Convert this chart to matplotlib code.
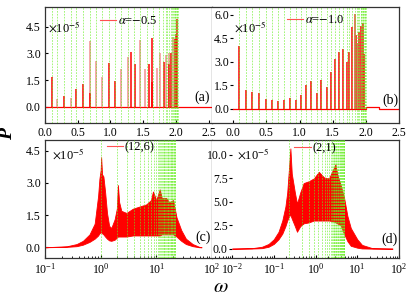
import matplotlib
matplotlib.use("Agg")
import matplotlib.pyplot as plt

plt.rcParams['font.family'] = ['Liberation Serif', 'DejaVu Serif']
plt.rcParams['mathtext.fontset'] = 'stix'
plt.rcParams['font.size'] = 8.5

# ---- panel (a): alpha = -0.5 ----
a_green = [0.1, 0.19, 0.29, 0.39, 0.48, 0.58, 0.68, 0.78, 0.87, 0.97, 1.07, 1.16,
           1.26, 1.36, 1.45, 1.55, 1.65, 1.74, 1.8, 1.84, 1.87, 1.9, 1.92, 1.94,
           1.96, 1.97, 1.98, 1.99, 2.0, 2.01, 2.02, 2.03]
a_red_x = [0.1, 0.29, 0.48, 0.58, 0.68, 0.97, 1.07, 1.31, 1.38, 1.59, 1.64, 1.64,
           1.81, 1.9, 1.93, 1.98, 2.0, 2.02]
a_red_y = [1.7, 0.6, 1.0, 1.3, 0.8, 2.45, 1.45, 3.1, 2.4, 2.4, 3.85, 1.4,
           2.5, 2.4, 3.0, 3.8, 4.1, 4.9]
a_pink_x = [0.19, 0.39, 0.68, 0.78, 0.87, 1.16, 1.26, 1.45, 1.53, 1.71, 1.76,
            1.85, 1.9, 1.96]
a_pink_y = [0.46, 0.5, 3.7, 2.55, 1.65, 2.15, 2.8, 3.75, 2.1, 2.2, 3.0,
            2.9, 3.0, 3.9]
a_base_x = [0.0, 2.55]
a_base_y = [0.0, 0.0]

# ---- panel (b): alpha = -1.0 ----
b_green = [0.09, 0.19, 0.29, 0.39, 0.49, 0.59, 0.68, 0.77, 0.86, 0.94, 1.02, 1.1,
           1.18, 1.26, 1.33, 1.41, 1.47, 1.53, 1.6, 1.66, 1.71, 1.75, 1.79, 1.83,
           1.86, 1.88, 1.9, 1.92, 1.93, 1.94, 1.95, 1.96, 1.97, 1.98, 1.99, 2.0]
b_red_x = [0.09, 0.19, 0.29, 0.39, 0.49, 0.59, 0.68, 0.77, 0.86, 0.94, 1.02, 1.1,
           1.18, 1.26, 1.33, 1.41, 1.47, 1.53, 1.6, 1.66, 1.71, 1.75, 1.79, 1.85,
           1.89, 1.93, 1.95, 1.97]
b_red_y = [4.0, 1.2, 1.05, 1.0, 0.65, 0.55, 0.5, 0.55, 0.7, 0.55, 0.9, 1.5,
           1.75, 1.0, 1.85, 1.4, 2.35, 3.2, 3.65, 3.85, 3.0, 3.6, 5.2, 4.7,
           4.9, 5.3, 5.5, 3.5]
b_pink_x = [1.83, 1.87, 1.91]
b_pink_y = [6.05, 4.2, 2.8]
b_base_x = [0.0, 2.0, 2.0, 2.2, 2.2, 2.5]
b_base_y = [0.0, 0.0, 0.12, 0.12, 0.0, 0.0]

# ---- panel (c): (12,6) ----
c_green = [1, 2, 3, 4, 5, 6, 7, 8, 9, 10, 10.5, 11, 11.5, 12, 12.5, 13, 13.5, 14,
           14.5, 15, 15.5, 16, 16.5, 17, 17.5, 18, 18.5, 19, 19.5, 20, 20.5, 21,
           21.5, 22]
c_x = [0.1, 0.25, 0.37, 0.48, 0.63, 0.78, 0.9, 0.95, 1.0, 1.02, 1.06, 1.12, 1.2,
       1.3, 1.42, 1.55, 1.78, 1.95, 2.04, 2.15, 2.35, 2.9, 3.8, 5.0, 6.6, 8.0,
       8.7, 10.0, 11.5, 12.5, 15.0, 17.0, 20.0, 23.0, 28.0, 34.0, 45.0, 59.0, 65.0]
c_hi = [0.0, 0.05, 0.15, 0.3, 0.6, 1.1, 2.4, 3.2, 3.6, 4.2, 3.4, 3.3, 2.6,
        1.6, 1.0, 0.9, 1.3, 1.8, 2.9, 2.1, 1.7, 1.6, 1.8, 1.9, 2.0, 2.2,
        2.6, 2.2, 2.7, 2.3, 2.3, 2.1, 2.2, 1.4, 0.8, 0.4, 0.15, 0.02, 0.0]
c_lo = [0.0, 0.02, 0.05, 0.12, 0.25, 0.4, 0.55, 0.65, 0.7, 0.7, 0.65, 0.6, 0.5,
        0.4, 0.32, 0.3, 0.35, 0.45, 0.5, 0.5, 0.5, 0.5, 0.55, 0.55, 0.55, 0.55,
        0.55, 0.55, 0.55, 0.6, 0.6, 0.6, 0.6, 0.5, 0.3, 0.15, 0.05, 0.0, 0.0]

# ---- panel (d): (2,1) ----
d_green = [0.235, 0.47, 0.705, 0.94, 1.175, 1.41, 1.645, 1.88, 2.115, 2.35, 2.47,
           2.585, 2.7, 2.82, 2.94, 3.055, 3.17, 3.29, 3.41, 3.525, 3.64, 3.76,
           3.88, 3.995, 4.11, 4.23, 4.35, 4.465, 4.58, 4.7, 4.82, 4.935]
d_x = [0.01, 0.03, 0.052, 0.075, 0.1, 0.13, 0.16, 0.19, 0.21, 0.235, 0.25, 0.27,
       0.32, 0.36, 0.43, 0.52, 0.69, 0.91, 1.2, 1.6, 2.1, 2.8, 3.0, 3.3, 4.0,
       4.8, 5.8, 7.0, 10.0, 13.0, 23.0, 70.0]
d_hi = [0.0, 0.05, 0.2, 0.5, 1.0, 1.8, 3.0, 4.5, 6.0, 9.0, 10.7, 8.0,
        6.0, 4.8, 6.0, 7.0, 7.2, 7.5, 8.2, 7.6, 7.5, 8.7, 9.0, 8.0, 6.8,
        5.5, 3.5, 2.2, 1.0, 0.4, 0.05, 0.0]
d_lo = [0.0, 0.01, 0.05, 0.2, 0.5, 1.0, 1.6, 2.4, 3.0, 3.5, 3.6, 3.2,
        2.4, 1.8, 2.4, 2.7, 2.8, 3.0, 3.0, 3.0, 3.0, 2.9, 2.8, 2.7, 2.5,
        1.6, 0.8, 0.3, 0.1, 0.02, 0.0, 0.0]

RED = '#ff0000'
PINK = '#f4a0a0'
GREEN = '#66ee22'

fig = plt.figure(figsize=(4.16, 2.96), dpi=100)
ax_a = fig.add_axes([45/416, 1 - 123/296, 167/416, 116/296])
ax_b = fig.add_axes([212/416, 1 - 123/296, 187/416, 116/296])
ax_c = fig.add_axes([45/416, 1 - 258/296, 167/416, 118/296])
ax_d = fig.add_axes([212/416, 1 - 258/296, 187/416, 118/296])


def greens(ax, xs):
    for x in xs:
        ax.axvline(x, color=GREEN, lw=0.6, ls=(0, (2, 1.5)), alpha=0.7, zorder=3)


# (a)
ax_a.plot(a_base_x, a_base_y, color=RED, lw=0.9, zorder=2)
ax_a.vlines(a_pink_x, 0, a_pink_y, color=PINK, lw=1.3, zorder=2)
ax_a.vlines(a_red_x, 0, a_red_y, color=RED, lw=1.1, zorder=2)
greens(ax_a, a_green)
ax_a.set_xlim(0, 2.55)
ax_a.set_ylim(-0.9, 5.6)
ax_a.set_xticks([0, 0.5, 1.0, 1.5, 2.0, 2.5])
ax_a.set_xticklabels(['0.0', '0.5', '1.0', '1.5', '2.0', '2.5'])
ax_a.set_yticks([0, 1.5, 3.0, 4.5])
ax_a.set_yticklabels(['0.0', '1.5', '3.0', '4.5'])

# (b)
ax_b.plot(b_base_x, b_base_y, color=RED, lw=0.9, zorder=2)
ax_b.vlines(b_red_x, 0, b_red_y, color=RED, lw=1.1, zorder=2)
ax_b.vlines(b_pink_x, 0, b_pink_y, color='#e06040', lw=1.2, zorder=2)
greens(ax_b, b_green)
ax_b.set_xlim(-0.32, 2.5)
ax_b.set_ylim(-0.9, 6.5)
ax_b.set_xticks([0, 0.5, 1.0, 1.5, 2.0, 2.5])
ax_b.set_xticklabels(['0.0', '0.5', '1.0', '1.5', '2.0', '2.5'])
ax_b.set_yticks([0, 1.5, 3.0, 4.5, 6.0])
ax_b.set_yticklabels(['0.0', '1.5', '3.0', '4.5', '6.0'])
ax_b.spines['left'].set_position(('data', 0))
ax_b.spines['left'].set_visible(False)

# (c)
ax_c.fill_between(c_x, c_lo, c_hi, color=RED, lw=0.6, zorder=2)
greens(ax_c, c_green)
ax_c.set_xscale('log')
ax_c.set_xlim(0.1, 100)
ax_c.set_ylim(-0.5, 5.0)
ax_c.set_yticks([0, 1.5, 3.0, 4.5])
ax_c.set_yticklabels(['0.0', '1.5', '3.0', '4.5'])

# (d)
ax_d.fill_between(d_x, d_lo, d_hi, color=RED, lw=0.6, zorder=2)
greens(ax_d, d_green)
ax_d.set_xscale('log')
ax_d.set_xlim(10 ** -2.48, 100)
ax_d.set_ylim(-1.0, 11.6)
ax_d.set_yticks([0, 2.5, 5.0, 7.5, 10.0])
ax_d.set_yticklabels(['0.0', '2.5', '5.0', '7.5', '10.0'])
ax_d.spines['left'].set_position(('data', 0.01))
ax_d.spines['left'].set_visible(False)

for ax in (ax_a, ax_b, ax_c, ax_d):
    for s in ax.spines.values():
        s.set_linewidth(0.9)
        s.set_color('#333333')
    ax.tick_params(axis='x', direction='in', length=2, pad=3, labelsize=8.5)
    ax.tick_params(axis='x', which='minor', direction='in', length=1.5)
    ax.tick_params(axis='y', direction='out', length=2, pad=1, labelsize=8.5)
    ax.tick_params(axis='y', which='minor', left=False)
for ax in (ax_a, ax_c):
    ax.tick_params(axis='y', direction='in', pad=3)

# legends
legs = [(ax_a, r'$\alpha$=$-$0.5', (0.33, 0.93)),
        (ax_b, r'$\alpha$=$-$1.0', (0.40, 0.94)),
        (ax_c, '(12,6)', (0.37, 0.985)),
        (ax_d, '(2,1)', (0.44, 0.98))]
for ax, lab, pos in legs:
    h, = ax.plot([], [], color='#ff5050', lw=0.8)
    ax.legend([h], [lab], loc='upper left', bbox_to_anchor=pos, frameon=False,
              handlelength=1.3, handletextpad=0.15, borderpad=0, borderaxespad=0,
              fontsize=9)

mults = [(ax_a, r'$\times$10$^{-5}$', 0.015, 0.82),
         (ax_b, r'$\times$10$^{-5}$', 0.118, 0.82),
         (ax_c, r'$\times$10$^{-5}$', 0.04, 0.87),
         (ax_d, r'$\times$10$^{-5}$', 0.135, 0.87)]
for ax, t, x, y in mults:
    ax.text(x, y, t, transform=ax.transAxes, fontsize=9, va='center', ha='left')

tags = [(ax_a, '(a)', 0.99, 0.22), (ax_b, '(b)', 0.995, 0.2),
        (ax_c, '(c)', 0.99, 0.18), (ax_d, '(d)', 0.99, 0.16)]
for ax, t, x, y in tags:
    ax.text(x, y, t, transform=ax.transAxes, fontsize=10, va='center', ha='right')

fig.text(8/416, 1 - 134/296, 'P', fontsize=14, fontstyle='italic', fontweight='bold',
         rotation=90, va='center', ha='center')
fig.text(221/416, 1 - 287/296, r'$\omega$', fontsize=15, va='center', ha='center')

fig.savefig('out.png', dpi=100)
